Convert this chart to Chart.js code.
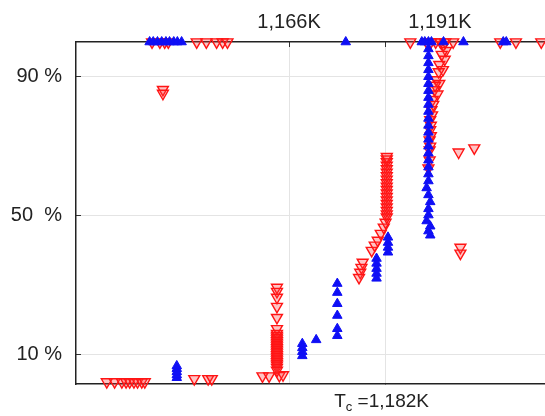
<!DOCTYPE html>
<html>
<head>
<meta charset="utf-8">
<script src="https://cdn.jsdelivr.net/npm/chart.js@4"></script>
<style>
  html, body { margin: 0; padding: 0; background: #fff; overflow: hidden; }
  #wrap { width: 545px; height: 416px; overflow: hidden; }
</style>
</head>
<body>
<div id="wrap"><canvas id="tcChart" width="587" height="416"></canvas></div>
<script>
// === data (temperature in K, cumulative fraction in %) ===
const redTemps = [
    1135.8, 1137.1, 1138.3, 1139.0, 1139.6, 1140.3, 1140.9, 1141.6, 1142.1,
    1150.3, 1152.6, 1153.2,
    1161.6, 1162.7, 1164.4, 1165.0,
    1164.0, 1164.0, 1164.0, 1164.0, 1164.0, 1164.0, 1164.0, 1164.0, 1164.0,
    1164.0, 1164.0, 1164.0, 1164.0, 1164.0, 1164.0, 1164.0, 1164.0, 1164.0,
    1164.0, 1164.0, 1164.0, 1164.0, 1164.0, 1164.0, 1164.0, 1164.0, 1164.0,
    1178.2, 1178.0, 1177.8, 1177.6,
    1179.7, 1180.2, 1180.7, 1181.2, 1181.7, 1182.0, 1182.2,
    1182.2, 1182.2, 1182.2, 1182.2, 1182.2, 1182.2, 1182.2, 1182.2, 1182.2,
    1182.2, 1182.2, 1182.2, 1182.2, 1182.2, 1182.2, 1182.2, 1182.2, 1182.2,
    1191.6, 1192.0, 1191.3, 1191.8, 1190.9, 1191.5, 1190.8, 1190.4, 1190.9,
    1190.1, 1190.6, 1189.8, 1189.6, 1189.4, 1189.4, 1189.3, 1189.3, 1189.3, 1189.1,
    1190.2, 1189.9, 1189.7, 1189.5, 1189.5, 1189.4,
    1194.1, 1196.7, 1194.4, 1194.4,
    1145.1, 1145.1,
    1143.3, 1144.6, 1145.4, 1146.0, 1150.7, 1152.3, 1154.0, 1155.0, 1155.8,
    1186.1, 1188.8, 1189.5, 1190.3, 1191.1, 1191.9, 1193.2, 1201.0, 1203.6, 1207.8
];
const redPcts = [
    2.2, 2.2, 2.2, 2.2, 2.2, 2.2, 2.2, 2.2, 2.2,
    3.1, 3.1, 3.1,
    3.9, 3.9, 4.0, 4.2,
    29.4, 28.2, 26.5, 23.9, 20.7, 17.5, 16.1, 15.5, 15.0,
    14.5, 14.0, 13.5, 13.0, 12.5, 12.0, 11.5, 11.0, 10.5,
    10.0, 9.5, 9.0, 8.5, 8.0, 7.5, 7.0, 6.3, 5.5,
    36.6, 35.1, 33.7, 32.2,
    40.0, 41.5, 42.9, 44.9, 46.7, 48.1, 49.6,
    50.5, 51.5, 52.5, 53.5, 54.5, 55.5, 56.5, 57.5, 58.5,
    59.5, 60.5, 61.5, 62.5, 63.5, 64.5, 65.5, 66.3, 67.0,
    99.2, 97.5, 96.4, 95.0, 93.5, 92.0, 91.4, 89.1, 88.0,
    86.2, 85.0, 83.4, 80.5, 77.6, 74.7, 71.8, 68.9, 66.0, 63.7,
    87.5, 82.0, 79.0, 76.0, 73.0, 70.0,
    68.3, 69.5, 40.9, 39.2,
    86.3, 85.2,
    100, 100, 100, 100, 100, 100, 100, 100, 100,
    100, 100, 100, 100, 100, 100, 100, 100, 100, 100
];

const blueTemps = [
    1142.9, 1143.5, 1144.2, 1144.9, 1145.6, 1146.2, 1146.9, 1147.5, 1148.2,
    1175.4, 1188.0, 1188.5, 1189.1, 1189.6, 1191.6, 1194.9, 1201.5, 1202.0,
    1147.4, 1147.4, 1147.4, 1147.4, 1147.4,
    1168.2, 1168.2, 1168.2, 1168.2,
    1170.5,
    1174.0, 1174.0, 1174.0, 1174.0, 1174.0, 1174.0,
    1180.5, 1180.5, 1180.5, 1180.5, 1180.5,
    1182.4, 1182.4, 1182.4, 1182.4,
    1189.4, 1189.1, 1189.4, 1188.8, 1189.1, 1189.1, 1189.4, 1189.1, 1188.8, 1189.1,
    1189.1, 1189.1, 1189.1, 1189.1, 1189.1, 1189.1, 1189.1, 1189.1, 1189.1, 1189.1,
    1189.1, 1189.1, 1189.1, 1189.1, 1189.1, 1189.1, 1189.1, 1189.1, 1189.1
];
const bluePcts = [
    100, 100, 100, 100, 100, 100, 100, 100, 100,
    100, 100, 100, 100, 100, 100, 100, 100, 100,
    3.4, 4.2, 5.1, 6.0, 6.8,
    13.2, 12.0, 10.9, 9.7,
    14.3,
    30.5, 27.9, 24.7, 21.3, 17.5, 15.5,
    37.7, 36.3, 34.8, 33.4, 32.0,
    43.8, 42.3, 40.9, 39.5,
    44.4, 45.6, 47.0, 48.5, 50.2, 52.0, 54.0, 56.0, 58.0, 60.0,
    62.0, 64.0, 66.0, 68.0, 70.0, 72.0, 74.0, 76.0, 78.0, 80.0,
    82.0, 84.0, 86.0, 88.0, 90.0, 92.0, 94.0, 96.0, 98.0
];

const NB = "\u00A0";
const yTicks = [10, 50, 90];
const yTickLabels = ["10" + NB + "%", "50" + NB + NB + "%", "90" + NB + "%"];
const topTicks = [1166, 1182, 1191];
const topTickLabels = ["1,166K", "", "1,191K"];
const tcValue = 1182;
const tcLabel = { main: "T", sub: "c", rest: NB + "=1,182K" };

const xMin = 1130.7;
const xMax = 1214.1;
const yMin = 1.6;
const yMax = 100;

const FONT = "Liberation Sans, Arial, Helvetica, sans-serif";

const toPoints = (xs, ys) => xs.map((x, i) => ({ x: x, y: ys[i] }));

// bottom label with subscript c
const tcLabelPlugin = {
    id: "tcLabel",
    afterDraw(chart) {
        const ctx = chart.ctx;
        const px = chart.scales.x.getPixelForValue(tcValue);
        const baseY = 407;
        ctx.save();
        ctx.fillStyle = "#222";
        ctx.textBaseline = "alphabetic";
        ctx.font = "19px " + FONT;
        const wMain = ctx.measureText(tcLabel.main).width;
        const wRest = ctx.measureText(tcLabel.rest).width;
        ctx.font = "13px " + FONT;
        const wSub = ctx.measureText(tcLabel.sub).width;
        let x = px - (wMain + wSub + wRest) / 2 - 4;
        ctx.font = "19px " + FONT;
        ctx.fillText(tcLabel.main, x, baseY);
        x += wMain;
        ctx.font = "13px " + FONT;
        ctx.fillText(tcLabel.sub, x, baseY + 4);
        x += wSub;
        ctx.font = "19px " + FONT;
        ctx.fillText(tcLabel.rest, x, baseY);
        ctx.restore();
    }
};

const ctx = document.getElementById("tcChart").getContext("2d");

new Chart(ctx, {
    type: "scatter",
    data: {
        datasets: [
            {
                label: "heating",
                data: toPoints(blueTemps, bluePcts),
                pointStyle: "triangle",
                pointRadius: 5.5,
                pointHoverRadius: 5.5,
                backgroundColor: "rgb(15,15,245)",
                borderColor: "rgb(15,15,245)",
                borderWidth: 1,
                clip: false
            },
            {
                label: "cooling",
                data: toPoints(redTemps, redPcts),
                pointStyle: "triangle",
                rotation: 180,
                pointRadius: 6.3,
                pointHoverRadius: 6.3,
                backgroundColor: "rgba(255,60,60,0.3)",
                borderColor: "rgb(255,20,20)",
                borderWidth: 1.4,
                clip: false
            }
        ]
    },
    options: {
        responsive: false,
        animation: false,
        layout: { padding: 0 },
        plugins: {
            legend: { display: false },
            tooltip: { enabled: false }
        },
        scales: {
            x: {
                type: "linear",
                position: "bottom",
                min: xMin,
                max: xMax,
                afterBuildTicks: s => { s.ticks = [{ value: tcValue }]; },
                afterFit: s => { s.height = 32; },
                ticks: { display: false },
                grid: {
                    drawOnChartArea: false,
                    tickLength: -5,
                    tickColor: "#333",
                    lineWidth: 1
                },
                border: { color: "#222", width: 1.5 }
            },
            x2: {
                type: "linear",
                position: "top",
                min: xMin,
                max: xMax,
                afterBuildTicks: s => { s.ticks = topTicks.map(v => ({ value: v })); },
                afterFit: s => { s.height = 42; },
                ticks: {
                    color: "#222",
                    font: { family: FONT, size: 20 },
                    padding: 13,
                    maxRotation: 0,
                    callback: (v) => topTickLabels[topTicks.indexOf(v)]
                },
                grid: {
                    tickLength: -5,
                    color: c => (c.tick && c.tick.value === 1191) ? "rgba(0,0,0,0)" : "#e4e4e4",
                    tickColor: c => (c.tick && c.tick.value === 1191) ? "rgba(0,0,0,0)" : "#333",
                    lineWidth: 1
                },
                border: { color: "#222", width: 1.5 }
            },
            y: {
                type: "linear",
                position: "left",
                min: yMin,
                max: yMax,
                afterBuildTicks: s => { s.ticks = yTicks.map(v => ({ value: v })); },
                afterFit: s => { s.width = 76; },
                ticks: {
                    color: "#222",
                    font: { family: FONT, size: 20 },
                    padding: 19,
                    callback: (v) => yTickLabels[yTicks.indexOf(v)]
                },
                grid: {
                    tickLength: -5,
                    color: "#e4e4e4",
                    tickColor: "#333",
                    lineWidth: 1
                },
                border: { color: "#222", width: 1.5 }
            }
        }
    },
    plugins: [tcLabelPlugin]
});
</script>
</body>
</html>
